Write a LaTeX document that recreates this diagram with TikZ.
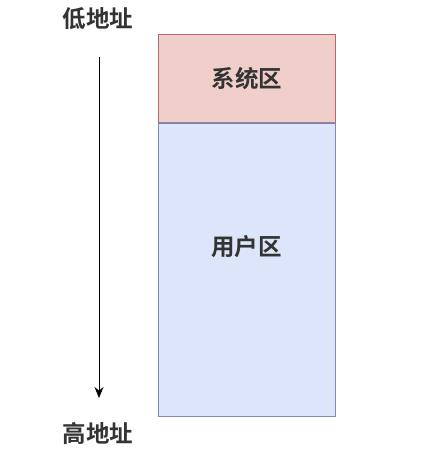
\documentclass[tikz,border=0pt]{standalone}
\usepackage{fontspec}
\newfontfamily\cjk{Noto Sans CJK SC}[BoldFont={* Bold}]
\usetikzlibrary{arrows.meta}
\definecolor{sysfill}{HTML}{F0CFCB}
\definecolor{sysdraw}{HTML}{B06A6A}
\definecolor{usrfill}{HTML}{DDE5FA}
\definecolor{usrdraw}{HTML}{8088BC}
\definecolor{txt}{HTML}{333333}
\tikzset{
  lbl/.style={font=\cjk\bfseries\fontsize{23.5}{28}\selectfont, text=txt, inner sep=0pt},
  region/.style={line width=1.3pt, inner sep=0pt, anchor=north west},
}
\begin{document}
\begin{tikzpicture}[x=1pt,y=-1pt]
\useasboundingbox (0,0) rectangle (433,462);
\fill[white] (0,0) rectangle (433,462);
\node[region, draw=sysdraw, fill=sysfill, minimum width=177pt, minimum height=88pt] (sys) at (158,34) {};
\node[region, draw=usrdraw, fill=usrfill, minimum width=177pt, minimum height=294pt] (usr) at (158,122) {};
\draw[draw=sysdraw!50!usrdraw, line width=1.3pt] (sys.south west) -- (sys.south east);
\node[lbl] (syst) at (sys.center) {系统区};
\node[lbl] (usrt) at (246.5,247) {用户区};
\node[lbl] (low) at (98,19) {低地址};
\node[lbl] (high) at (98,433) {高地址};
\coordinate (a1) at (99,57);
\coordinate (a2) at (99,398);
\draw[-{Stealth[length=11pt,width=9pt]}, line width=1pt, black] (a1) -- (a2);
\end{tikzpicture}
\end{document}
